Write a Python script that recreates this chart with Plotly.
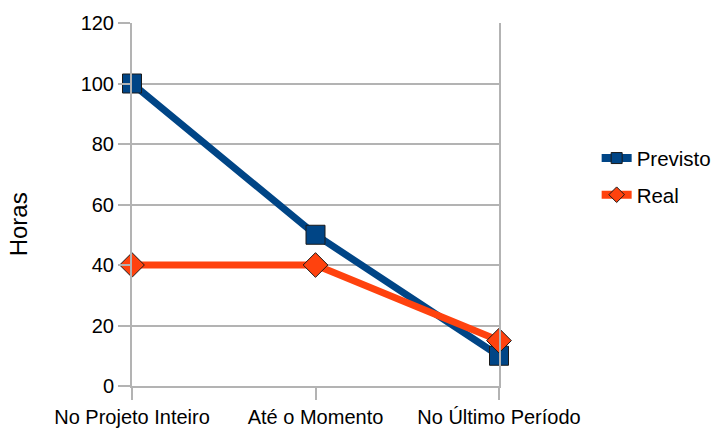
import plotly.graph_objects as go

categorias = ["No Projeto Inteiro", "Até o Momento", "No Último Período"]
previsto = [100, 50, 10]
real = [40, 40, 15]
ticks_y = [0, 20, 40, 60, 80, 100, 120]

FONT = "Liberation Sans, Arial, sans-serif"
GRID = "#b3b3b3"
AZUL = "#004586"
LARANJA = "#ff420e"
BORDA = "#1a1a1a"

fig = go.Figure()
# Data series (legend drawn by the dummy traces below, with smaller symbols)
fig.add_trace(go.Scatter(
    x=categorias, y=previsto, name="Previsto", mode="lines+markers",
    showlegend=False, legendgroup="p", cliponaxis=False,
    line=dict(color=AZUL, width=7),
    marker=dict(symbol="square", size=19, color=AZUL, line=dict(color=BORDA, width=1)),
))
fig.add_trace(go.Scatter(
    x=categorias, y=real, name="Real", mode="lines+markers",
    showlegend=False, legendgroup="r", cliponaxis=False,
    line=dict(color=LARANJA, width=7),
    marker=dict(symbol="diamond", size=19, color=LARANJA, line=dict(color=BORDA, width=1)),
))
# Legend entries
fig.add_trace(go.Scatter(
    x=[None], y=[None], name="Previsto", mode="lines+markers", legendgroup="p",
    line=dict(color=AZUL, width=8),
    marker=dict(symbol="square", size=11, color=AZUL, line=dict(color=BORDA, width=1)),
))
fig.add_trace(go.Scatter(
    x=[None], y=[None], name="Real", mode="lines+markers", legendgroup="r",
    line=dict(color=LARANJA, width=8),
    marker=dict(symbol="diamond", size=12, color=LARANJA, line=dict(color=BORDA, width=1)),
))

fig.update_layout(
    width=712, height=430,
    margin=dict(l=132, r=213, t=23, b=44, autoexpand=False),
    paper_bgcolor="white", plot_bgcolor="white",
    font=dict(family=FONT, size=20, color="#000000"),
    showlegend=True,
    legend=dict(xref="container", yref="container", x=0.838, y=0.589,
                xanchor="left", yanchor="middle",
                font=dict(size=20.5), itemwidth=30, tracegroupgap=7,
                bgcolor="rgba(0,0,0,0)"),
    annotations=[dict(text="Horas", xref="paper", yref="paper",
                      x=-0.31, y=0.446, textangle=-90, showarrow=False,
                      font=dict(size=24), xanchor="center", yanchor="middle")],
)
fig.update_xaxes(
    type="category", range=[0, 2], showgrid=False, automargin=False,
    showline=True, linecolor=GRID, linewidth=2,
    ticks="outside", ticklen=12, tickcolor=GRID, tickwidth=1.5,
    ticklabelstandoff=0,
    tickfont=dict(size=20), zeroline=False,
)
fig.update_yaxes(
    range=[0, 120], tickvals=ticks_y, showgrid=True, gridcolor=GRID, gridwidth=1.5,
    showline=True, linecolor=GRID, linewidth=2, mirror=True, automargin=False,
    ticks="outside", ticklen=12, tickcolor=GRID, tickwidth=1.5,
    tickfont=dict(size=20), zeroline=False,
)

fig.write_html("out.html")
